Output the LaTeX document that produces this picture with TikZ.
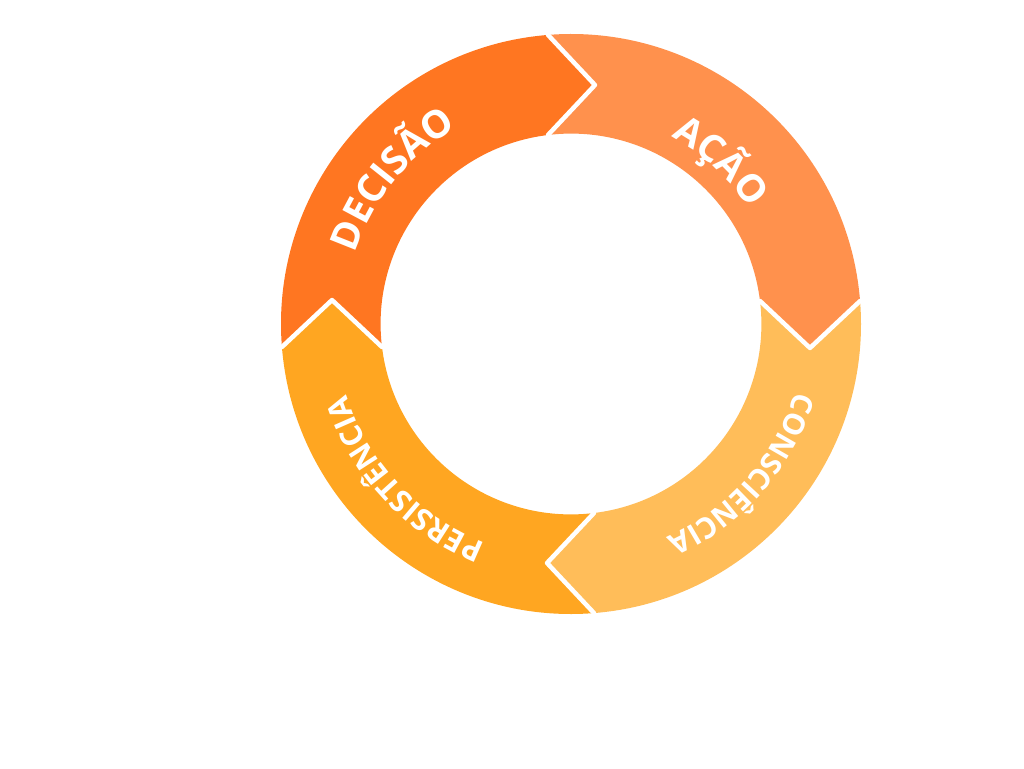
\documentclass[tikz,border=0pt]{standalone}
\usepackage{fontspec}
\setmainfont{Open Sans}
\usetikzlibrary{decorations.text}
\definecolor{cDec}{HTML}{FF7621}
\definecolor{cAcao}{HTML}{FF914D}
\definecolor{cCons}{HTML}{FFBD59}
\definecolor{cPers}{HTML}{FFA621}
\tikzset{
  sepline/.style={white, line width=4.5pt, line join=round, line cap=round},
  ringtext/.style n args={2}{decorate, decoration={text along path,
      text={|\fontsize{#1}{#1}\selectfont\bfseries|#2},
      text color=white, text align=center}},
}
\begin{document}
\begin{tikzpicture}[x=1pt,y=1pt]
\useasboundingbox (-571,-444) rectangle (453,324);
% ring segments (clockwise flow)
\foreach \A/\col in {180/cDec, 90/cAcao, 0/cCons, -90/cPers} {
  \fill[\col] (\A+4.55:290pt) arc[start angle=\A+4.55, end angle=\A-85.45, radius=290pt]
    -- (\A-95.73:240.2pt) -- (\A-83.06:190.4pt)
    arc[start angle=\A-83.06, end angle=\A+6.94, radius=190.4pt]
    -- (\A-5.73:240.2pt) -- cycle;
}
% white separators (chevrons)
\foreach \A in {180,90,0,-90} {
  \draw[sepline] (\A+4.55:290pt) -- (\A-5.73:240.2pt) -- (\A+6.94:190.4pt);
}
% labels along the ring (centred on the given angle)
\path[ringtext={38.5}{DECISÃO}] (181:227pt) arc[start angle=181, end angle=101, radius=227pt];
\path[ringtext={38}{AÇÃO}] (87.4:212pt) arc[start angle=87.4, end angle=7.4, radius=212pt];
\path[ringtext={29.5}{CONSCIÊNCIA}] (-1.3:234pt) arc[start angle=-1.3, end angle=-81.3, radius=234pt];
\path[ringtext={30.5}{PERSISTÊNCIA}] (-97:235pt) arc[start angle=-97, end angle=-177, radius=235pt];
\end{tikzpicture}
\end{document}
